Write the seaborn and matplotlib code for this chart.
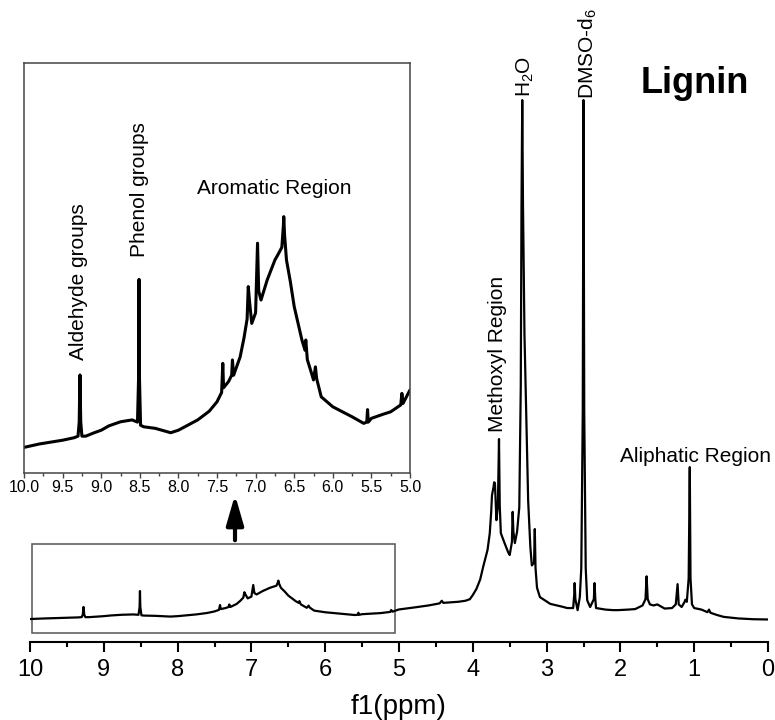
import matplotlib
matplotlib.use('Agg')
import matplotlib.pyplot as plt
import pandas as pd
import seaborn as sns
from matplotlib.patches import Rectangle, FancyArrowPatch
from matplotlib.ticker import MultipleLocator

# ---- spectrum (ppm, relative intensity) ----
ppm = [10.00, 9.80, 9.60, 9.50, 9.35, 9.30, 9.285, 9.275, 9.265, 9.25, 9.20, 9.10, 9.00,
       8.90, 8.75, 8.60, 8.53, 8.515, 8.51, 8.505, 8.49, 8.45, 8.30, 8.10, 8.00, 7.75,
       7.60, 7.50, 7.44, 7.425, 7.415, 7.35, 7.31, 7.30, 7.285, 7.20, 7.15, 7.11, 7.095,
       7.08, 7.05, 7.00, 6.975, 6.96, 6.93, 6.85, 6.75, 6.70, 6.66, 6.64, 6.635, 6.625,
       6.60, 6.55, 6.50, 6.40, 6.36, 6.35, 6.33, 6.28, 6.25, 6.225, 6.21, 6.15, 6.00,
       5.75, 5.60, 5.56, 5.55, 5.54, 5.50, 5.35, 5.25, 5.12, 5.105, 5.09, 5.00,
       4.80, 4.60, 4.45, 4.42, 4.40, 4.20, 4.10, 4.04, 4.00, 3.95, 3.90, 3.86, 3.80,
       3.77, 3.75, 3.74, 3.72, 3.71, 3.70, 3.68, 3.66, 3.645, 3.635, 3.62, 3.57, 3.52,
       3.50, 3.47, 3.46, 3.45, 3.43, 3.40, 3.37, 3.35, 3.34, 3.33, 3.32, 3.30, 3.28,
       3.25, 3.22, 3.20, 3.17, 3.16, 3.15, 3.13, 3.09, 2.95, 2.80, 2.72, 2.64, 2.625, 2.62,
       2.61, 2.58, 2.55, 2.53, 2.51, 2.50, 2.49, 2.47, 2.45, 2.41, 2.36, 2.35, 2.34,
       2.33, 2.20, 2.10, 2.03, 1.90, 1.80, 1.70, 1.66, 1.645, 1.63, 1.60, 1.55, 1.50,
       1.40, 1.30, 1.25, 1.225, 1.21, 1.17, 1.13, 1.12, 1.10, 1.075, 1.06, 1.05, 1.03,
       1.00, 0.90, 0.82, 0.80, 0.78, 0.70, 0.60, 0.40, 0.20, 0.00]
intensity = [0.19, 0.30, 0.38, 0.42, 0.50, 0.55, 1.0, 2.51, 1.0, 0.55, 0.55, 0.65, 0.74,
             0.88, 1.01, 1.07, 1.0, 2.5, 5.57, 2.5, 0.9, 0.85, 0.80, 0.66, 0.74, 1.07,
             1.35, 1.65, 1.95, 2.88, 2.1, 2.3, 2.5, 2.99, 2.5, 3.09, 3.7, 4.3, 5.34,
             4.9, 4.16, 4.5, 6.73, 5.2, 4.91, 5.55, 6.19, 6.41, 6.6, 7.3, 7.58, 7.0,
             6.19, 5.5, 4.70, 3.63, 3.3, 3.63, 3.0, 2.6, 2.35, 2.77, 2.4, 1.81, 1.49,
             1.17, 0.96, 1.0, 1.4, 1.0, 1.12, 1.25, 1.33, 1.55, 1.92, 1.6, 2.03,
             2.4, 2.8, 3.2, 3.7, 3.3, 3.5, 3.7, 4.0, 4.8, 6.0, 7.8, 10.2, 13.5,
             16.7, 21.0, 24.0, 25.5, 26.5, 26.3, 19.2, 22.0, 34.8, 22.0, 16.7, 14.8, 13.0,
             12.5, 15.0, 20.8, 17.0, 14.8, 17.0, 21.7, 45.0, 80.0, 100.0, 80.0, 55.0, 42.0,
             23.0, 14.0, 10.5, 11.0, 17.5, 10.0, 6.2, 4.4, 3.1, 2.6, 2.3, 2.3, 5.0, 7.1,
             4.0, 1.9, 4.4, 10.0, 40.0, 100.0, 40.0, 10.0, 3.8, 2.5, 4.0, 7.1, 4.0,
             2.3, 2.0, 1.9, 1.9, 2.0, 2.1, 2.8, 4.0, 8.4, 4.0, 3.0, 2.8, 3.0,
             2.2, 2.3, 3.0, 6.9, 3.0, 2.5, 3.5, 3.9, 3.5, 8.0, 29.4, 8.0, 3.0,
             2.3, 2.0, 1.5, 2.0, 1.4, 1.0, 0.6, 0.3, 0.15, 0.10]

main_ticks = [10, 9, 8, 7, 6, 5, 4, 3, 2, 1, 0]
inset_ticks = [10.0, 9.5, 9.0, 8.5, 8.0, 7.5, 7.0, 6.5, 6.0, 5.5, 5.0]
inset_tick_labels = ['10.0', '9.5', '9.0', '8.5', '8.0', '7.5', '7.0', '6.5', '6.0', '5.5', '5.0']

df = pd.DataFrame({'ppm': ppm, 'intensity': intensity})

sns.set_theme(style='white')
plt.rcParams['font.family'] = ['Liberation Sans', 'DejaVu Sans']
plt.rcParams['mathtext.default'] = 'regular'
plt.rcParams['text.color'] = 'black'
plt.rcParams['axes.labelcolor'] = 'black'
plt.rcParams['xtick.color'] = 'black'
plt.rcParams['xtick.labelcolor'] = 'black'

W, H = 775, 720
fig = plt.figure(figsize=(W / 100, H / 100), dpi=100)

# ---- main axes ----
ax = fig.add_axes([30 / W, 1 - 642 / H, 738 / W, 622 / H])
sns.lineplot(data=df, x='ppm', y='intensity', ax=ax, color='black', linewidth=1.6,
             estimator=None, sort=False)
ax.set_xlim(10, 0)
ax.set_ylim(-4.23, 115.4)
for s in ['left', 'top', 'right']:
    ax.spines[s].set_visible(False)
ax.spines['bottom'].set_color('black')
ax.spines['bottom'].set_linewidth(1.5)
ax.set_yticks([])
ax.set_ylabel('')
ax.set_xticks(main_ticks)
ax.set_xticklabels([str(t) for t in main_ticks])
ax.xaxis.set_minor_locator(MultipleLocator(0.5))
ax.tick_params(axis='x', which='major', direction='out', length=7.5, width=1.5,
               color='black', labelcolor='black', labelsize=17, pad=5, bottom=True)
ax.tick_params(axis='x', which='minor', direction='out', length=3.8, width=1.5,
               color='black', bottom=True)
ax.set_xlabel('f1(ppm)', fontsize=20, labelpad=9, color='black')
ax.patch.set_alpha(0)

# zoom box
ax.add_patch(Rectangle((5.05, -2.5), 4.92, 17.1, fill=False, edgecolor='#555555',
                       linewidth=1.1, zorder=1))

# annotations
ax.text(3.67, 36.2, 'Methoxyl Region', rotation=90, ha='center', va='bottom', fontsize=15)
ax.text(3.29, 100.6, 'H$_2$O', rotation=90, ha='center', va='bottom', fontsize=15)
ax.text(2.44, 100.2, 'DMSO-d$_6$', rotation=90, ha='center', va='bottom', fontsize=15)
ax.text(0.976, 30.4, 'Aliphatic Region', ha='center', va='baseline', fontsize=15)
ax.text(0.99, 101.3, 'Lignin', ha='center', va='baseline', fontsize=26, fontweight='bold')

# arrow
fig.patches.append(FancyArrowPatch(
    (235 / W, 1 - 543 / H), (235 / W, 1 - 492 / H), transform=fig.transFigure,
    arrowstyle='-|>,head_length=0.9,head_width=0.26', mutation_scale=20,
    linewidth=3, color='black'))

# ---- inset ----
axi = fig.add_axes([24 / W, 1 - 473 / H, 386 / W, 410 / H])
sns.lineplot(data=df[df['ppm'] >= 5.0], x='ppm', y='intensity', ax=axi, color='black',
             linewidth=2.2, estimator=None, sort=False)
axi.set_xlim(10, 5)
axi.set_ylim(-0.63, 12.5)
for s in axi.spines.values():
    s.set_visible(True)
    s.set_color('#444444')
    s.set_linewidth(1.1)
axi.set_yticks([])
axi.set_ylabel('')
axi.set_xlabel('')
axi.set_xticks(inset_ticks)
axi.set_xticklabels(inset_tick_labels)
axi.xaxis.set_minor_locator(MultipleLocator(0.25))
axi.tick_params(axis='x', which='major', direction='out', length=3.8, width=1.0,
                color='#444444', labelcolor='black', labelsize=11.5, pad=1.5, bottom=True)
axi.tick_params(axis='x', which='minor', direction='out', length=2.2, width=1.0,
                color='#444444', bottom=True)
axi.text(9.30, 2.99, 'Aldehyde groups', rotation=90, ha='center', va='bottom', fontsize=15)
axi.text(8.51, 6.29, 'Phenol groups', rotation=90, ha='center', va='bottom', fontsize=15)
axi.text(6.76, 8.31, 'Aromatic Region', ha='center', va='baseline', fontsize=15)

fig.savefig('out.png', dpi=100)
